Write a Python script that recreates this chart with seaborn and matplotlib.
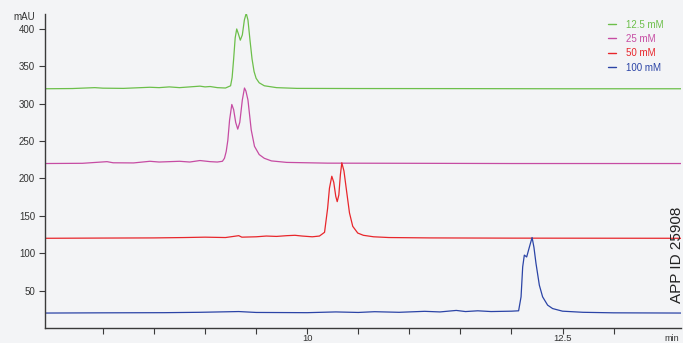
import matplotlib
matplotlib.use("Agg")
import matplotlib.pyplot as plt
import seaborn as sns
import pandas as pd

# ---- data ----
series_names = ["12.5 mM", "25 mM", "50 mM", "100 mM"]
series_colors = ["#6cbf4a", "#c64ca3", "#e8262b", "#2b44a6"]

t_125 = [7.43, 7.7, 7.92, 8.0, 8.2, 8.46, 8.55, 8.65, 8.75, 8.95, 9.0, 9.05, 9.12, 9.2, 9.25,
         9.265, 9.28, 9.295, 9.31, 9.325, 9.345, 9.365, 9.385, 9.403, 9.42, 9.44, 9.46, 9.48,
         9.50, 9.53, 9.58, 9.7, 9.9, 10.5, 11.5, 12.5, 13.66]
v_125 = [320, 320.3, 321.5, 320.8, 320.5, 322, 321.5, 322.5, 321.5, 323.5, 322.5, 323, 321.5, 321, 324,
         335, 360, 388, 400, 394, 385, 392, 412, 421, 412, 385, 360, 343,
         334, 328, 324, 321.5, 320.5, 320.3, 320.2, 320, 320]

t_25 = [7.43, 7.8, 8.04, 8.1, 8.3, 8.46, 8.55, 8.75, 8.85, 8.95, 9.05, 9.12, 9.17, 9.19, 9.207,
        9.223, 9.24, 9.262, 9.28, 9.30, 9.32, 9.34, 9.365, 9.386, 9.40, 9.42, 9.452, 9.484,
        9.53, 9.58, 9.65, 9.8, 10.2, 11.0, 12.0, 13.66]
v_25 = [220, 220.3, 222.5, 221, 220.8, 223, 222, 223, 222, 224, 222.5, 222, 223, 227, 236,
        251, 278, 299, 292, 275, 266, 275, 305, 321, 317, 305, 265, 243,
        232, 227, 223.5, 221.5, 220.5, 220.3, 220, 220]

t_50 = [7.43, 8.0, 8.5, 8.8, 9.0, 9.2, 9.33, 9.36, 9.5, 9.6, 9.7, 9.8, 9.88, 9.95, 10.05, 10.12,
        10.17, 10.20, 10.218, 10.241, 10.26, 10.28, 10.294, 10.31, 10.325, 10.339, 10.36,
        10.382, 10.414, 10.446, 10.495, 10.55, 10.65, 10.8, 11.2, 12.0, 13.66]
v_50 = [120, 120.3, 120.5, 121, 121.5, 121, 123.5, 121.5, 122, 123, 122.5, 123.5, 124, 123, 122, 123,
        128, 160, 187, 203, 195, 176, 169, 178, 205, 221, 210,
        187, 154, 136, 127, 124, 122, 121, 120.5, 120.2, 120]

t_100 = [7.43, 8.0, 8.6, 8.95, 9.33, 9.5, 10.0, 10.28, 10.5, 10.66, 10.9, 11.15, 11.3, 11.46, 11.55,
         11.67, 11.8, 12.0, 12.07, 12.094, 12.11, 12.126, 12.149, 12.176, 12.202, 12.22, 12.24,
         12.273, 12.305, 12.354, 12.403, 12.5, 12.7, 13.0, 13.66]
v_100 = [20, 20.3, 20.5, 21, 22, 20.8, 20.5, 21.5, 20.8, 21.8, 21, 22.3, 21.5, 23.5, 22,
         23, 22, 22.5, 23, 41.7, 81.8, 97.5, 95, 108.5, 121, 108, 86.6,
         57.3, 41.7, 30.6, 26, 22.5, 21, 20.3, 20]

y_ticks = [50, 100, 150, 200, 250, 300, 350, 400]
x_major = [10, 12.5]
x_minor = [8.0, 8.5, 9.0, 9.5, 10.5, 11.0, 11.5, 12.0, 13.0]

frames = []
for name, t, v in zip(series_names, [t_125, t_25, t_50, t_100], [v_125, v_25, v_50, v_100]):
    frames.append(pd.DataFrame({"time": t, "mAU": v, "series": name}))
df = pd.concat(frames, ignore_index=True)

# ---- figure ----
bg = "#f3f4f6"
sns.set_theme(style="white")
plt.rcParams["font.family"] = ["Liberation Sans", "DejaVu Sans"]

fig = plt.figure(figsize=(6.83, 3.43), dpi=100, facecolor=bg)
ax = fig.add_axes([44.7 / 683, 1 - 328 / 343, (681 - 44.7) / 683, (328 - 14) / 343])
ax.set_facecolor(bg)

sns.lineplot(data=df, x="time", y="mAU", hue="series", hue_order=series_names,
             palette=series_colors, linewidth=0.9, ax=ax, sort=False, estimator=None)

ax.set_xlim(7.43, 13.66)
ax.set_ylim(0, 420)

for s in ["top", "right"]:
    ax.spines[s].set_visible(False)
for s in ["left", "bottom"]:
    ax.spines[s].set_color("#3a3a3a")
    ax.spines[s].set_linewidth(1.0)

ax.set_yticks(y_ticks)
ax.set_yticklabels([str(v) for v in y_ticks])
ax.set_xticks(x_major)
ax.set_xticklabels(["10", "12.5"])
ax.set_xticks(x_minor, minor=True)
ax.tick_params(axis="both", which="both", direction="out", length=4, width=0.8,
               color="#3a3a3a", labelsize=7, labelcolor="#333333", pad=3,
               bottom=True, left=True)
ax.tick_params(axis="x", which="major", pad=0.5, labelsize=6.8)
ax.set_xlabel("")
ax.set_ylabel("")

fig.text(35 / 683, 1 - 17 / 343, "mAU", ha="right", va="center", fontsize=7, color="#333333")
fig.text(672 / 683, 1 - 338.5 / 343, "min", ha="center", va="center", fontsize=6.5, color="#333333")
fig.text(677 / 683, 1 - 255 / 343, "APP ID 25908", rotation=90, ha="center", va="center",
         fontsize=11, color="#222222")

handles, labels = ax.get_legend_handles_labels()
if ax.legend_:
    ax.legend_.remove()
leg = ax.legend(handles, labels, loc="upper left", bbox_to_anchor=(608 / 683, 1 - 19.5 / 343),
                bbox_transform=fig.transFigure, frameon=False, fontsize=7, handlelength=0.8,
                handletextpad=1.0, labelspacing=0.45, borderpad=0, borderaxespad=0)
for txt, c in zip(leg.get_texts(), series_colors):
    txt.set_color(c)
for h in leg.get_lines():
    h.set_linewidth(1.0)

fig.savefig("out.png", dpi=100, facecolor=bg)
